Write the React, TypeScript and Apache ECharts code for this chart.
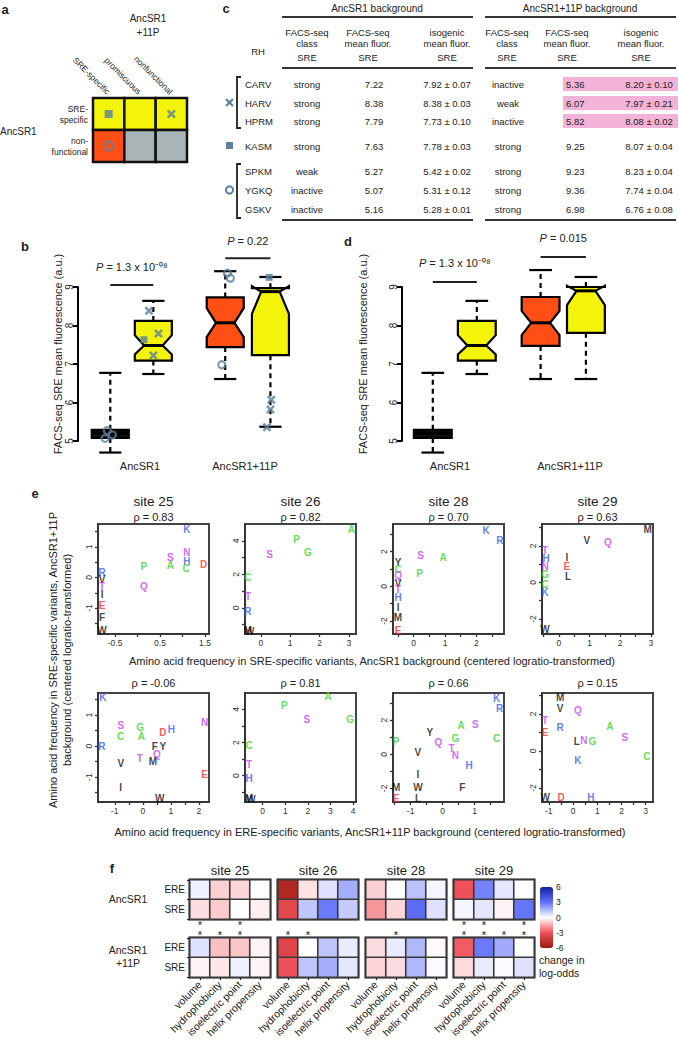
import React, { useEffect, useRef } from "react";
import * as echarts from "echarts";

const FONT = "'Liberation Sans', Arial, Helvetica, sans-serif";
const INK = "#222";
const MARK = "#5b7f9c";
const YELLOW = "#f4f40a";
const ORANGE = "#ff4f14";
const GRAY = "#a8b4b5";

// ---------- panel a ----------
const aColumns = ["SRE-specific", "promiscuous", "nonfunctional"];
const aRows = ["non-\nfunctional", "SRE-\nspecific"];
// [col, row, kind]  kind 0 = yellow, 1 = orange, 2 = gray
const aCells = [
  [0, 1, 0], [1, 1, 0], [2, 1, 0],
  [0, 0, 1], [1, 0, 2], [2, 0, 2],
];
const aMarkers: [number, number, string][] = [[0, 1, "square"], [2, 1, "cross"], [0, 0, "circle"]];

// ---------- panel c ----------
const cRH = ["CARV", "HARV", "HPRM", "KASM", "SPKM", "YGKQ", "GSKV"];
const cClass1 = ["strong", "strong", "strong", "strong", "weak", "inactive", "inactive"];
const cMean1 = [7.22, 8.38, 7.79, 7.63, 5.27, 5.07, 5.16];
const cIso1 = ["7.92 ± 0.07", "8.38 ± 0.03", "7.73 ± 0.10", "7.78 ± 0.03", "5.42 ± 0.02", "5.31 ± 0.12", "5.28 ± 0.01"];
const cClass2 = ["inactive", "weak", "inactive", "strong", "strong", "strong", "strong"];
const cMean2 = [5.36, 6.07, 5.82, 9.25, 9.23, 9.36, 6.98];
const cIso2 = ["8.20 ± 0.10", "7.97 ± 0.21", "8.08 ± 0.02", "8.07 ± 0.04", "8.23 ± 0.04", "7.74 ± 0.04", "6.76 ± 0.08"];
const cHighlight = [true, true, true, false, false, false, false];
const cHeaders = [["FACS-seq", "class", "SRE"], ["FACS-seq", "mean fluor.", "SRE"], ["isogenic", "mean fluor.", "SRE"]];

// ---------- panels b, d (box plots) ----------
const boxFill = [0, 1, 2, 1]; // 0 black, 1 yellow, 2 orange
const boxNotched = [0, 1, 1, 1];
const bPos = [1, 2, 3.67, 4.72];
const bLow = [4.7, 6.74, 6.61, 5.37];
const bQ1 = [5.08, 7.09, 7.44, 7.23];
const bNotchLo = [5.08, 7.25, 7.7, 8.3];
const bMed = [5.2, 7.48, 8.07, 8.88];
const bNotchHi = [5.29, 7.75, 8.45, 9.02];
const bQ3 = [5.29, 8.12, 8.73, 8.97];
const bHigh = [6.77, 8.64, 9.41, 9.26];

const dPos = [1, 2, 3.45, 4.48];
const dLow = [4.7, 6.74, 6.61, 6.61];
const dQ1 = [5.08, 7.09, 7.47, 7.81];
const dNotchLo = [5.08, 7.25, 7.75, 8.53];
const dMed = [5.2, 7.48, 8.07, 8.9];
const dNotchHi = [5.29, 7.75, 8.38, 9.03];
const dQ3 = [5.29, 8.12, 8.74, 9.0];
const dHigh = [6.77, 8.64, 9.44, 9.26];

// [box, value, jitter, symbol]
const bMarks: [number, number, number, string][] = [
  [0, 5.27, -0.07, "circle"], [0, 5.07, -0.12, "circle"], [0, 5.16, 0.05, "circle"],
  [1, 7.22, 0.0, "cross"], [1, 8.38, -0.1, "cross"], [1, 7.79, 0.12, "cross"], [1, 7.63, -0.22, "square"],
  [2, 9.23, 0.12, "circle"], [2, 9.36, 0.05, "circle"], [2, 6.98, -0.08, "circle"],
  [3, 5.36, -0.08, "cross"], [3, 6.07, 0.02, "cross"], [3, 5.82, 0.0, "cross"], [3, 9.25, -0.03, "square"],
];
// [x1, x2, yLine, yText]
const bTests = [[1, 2, 9.05, 9.52], [3.67, 4.72, 9.75, 10.19]];
const bTestLabels = ["1.3 x 10⁻⁰⁸", "0.22"];
const dTests = [[1, 2, 9.13, 9.62], [3.45, 4.48, 9.78, 10.27]];
const dTestLabels = ["1.3 x 10⁻⁰⁸", "0.015"];
const boxGroups = ["AncSR1", "AncSR1+11P"];

// ---------- panel e ----------
const eSites = ["site 25", "site 26", "site 28", "site 29"];
const eRhoTop = ["0.83", "0.82", "0.70", "0.63"];
const eRhoBottom = ["-0.06", "0.81", "0.66", "0.15"];

const e25Top: [string, number, number][] = [
  ["K", 1.1, 1.56], ["N", 1.1, 0.81], ["S", 0.73, 0.65], ["H", 1.1, 0.52], ["A", 0.73, 0.39], ["C", 1.08, 0.29],
  ["D", 1.47, 0.42], ["P", 0.14, 0.36], ["Q", 0.14, -0.29], ["R", -0.79, 0.15],
  ["V", -0.79, -0.05], ["T", -0.79, -0.3], ["I", -0.79, -0.55],
  ["E", -0.79, -0.93], ["F", -0.79, -1.3], ["W", -0.79, -1.75],
];
const e26Top: [string, number, number][] = [
  ["A", 3.08, 4.67], ["P", 1.22, 4.07], ["G", 1.6, 3.3], ["S", 0.3, 3.2], ["C", -0.44, 1.8], ["T", -0.44, 0.66],
  ["R", -0.44, -0.2], ["M", -0.44, -1.38], ["W", -0.38, -1.42],
];
const e28Top: [string, number, number][] = [
  ["K", 2.31, 3.24], ["R", 2.75, 2.66], ["S", 0.22, 1.79], ["A", 0.94, 1.68], ["P", 0.19, 0.75],
  ["Y", -0.5, 1.4], ["C", -0.5, 1.0], ["Q", -0.5, 0.6], ["V", -0.5, 0.15], ["T", -0.5, -0.2],
  ["H", -0.5, -0.64], ["I", -0.5, -1.2], ["M", -0.5, -1.82], ["E", -0.5, -2.55],
];
const e29Top: [string, number, number][] = [
  ["M", 2.9, 2.9], ["V", 0.91, 2.3], ["Q", 1.6, 2.18], ["T", -0.45, 1.75], ["H", -0.42, 1.3],
  ["N", -0.45, 0.85], ["G", -0.45, 0.45], ["I", 0.26, 1.37], ["E", 0.26, 0.87], ["L", 0.3, 0.33],
  ["C", -0.45, -0.1], ["K", -0.45, -0.55], ["W", -0.45, -2.6],
];
const e25Bottom: [string, number, number][] = [
  ["K", -1.43, 1.55], ["N", 2.2, 0.77], ["S", -0.79, 0.66], ["C", -0.79, 0.3], ["G", -0.1, 0.6], ["A", -0.05, 0.3],
  ["D", 0.71, 0.45], ["H", 1.02, 0.52], ["R", -1.46, 0.0], ["F", 0.43, 0.0], ["Y", 0.71, 0.0], ["T", -0.11, -0.4],
  ["Q", 0.5, -0.28], ["M", 0.36, -0.5], ["V", -0.79, -0.55], ["E", 2.2, -0.93], ["I", -0.79, -1.32],
  ["W", 0.6, -1.68],
];
const e26Bottom: [string, number, number][] = [
  ["A", 2.9, 4.8], ["P", 0.96, 4.25], ["G", 3.87, 3.4], ["S", 1.96, 3.4], ["C", -0.6, 1.8], ["T", -0.6, 0.7],
  ["H", -0.6, -0.2], ["M", -0.6, -1.4], ["W", -0.52, -1.45],
];
const e28Bottom: [string, number, number][] = [
  ["K", 1.69, 3.27], ["R", 1.78, 2.7], ["A", 0.58, 1.7], ["S", 1.02, 1.76], ["Y", -0.4, 1.3], ["P", -1.45, 0.76],
  ["Q", -0.13, 0.7], ["G", 0.4, 0.94], ["C", 1.69, 0.94], ["T", 0.28, 0.35], ["N", 0.4, -0.05], ["V", -0.77, 0.12],
  ["H", 0.83, -0.65], ["I", -0.77, -1.18], ["M", -1.45, -1.94], ["W", -0.77, -1.94],
  ["F", 0.62, -1.94], ["E", -1.45, -2.6], ["L", -0.77, -2.6],
];
const e29Bottom: [string, number, number][] = [
  ["M", -0.53, 2.86], ["V", -0.53, 2.27], ["Q", 0.2, 2.16], ["T", -1.15, 1.62], ["E", -1.15, 0.97], ["R", -0.53, 1.24],
  ["A", 1.52, 1.3], ["S", 2.14, 0.7], ["L", 0.16, 0.49], ["N", 0.45, 0.54], ["G", 0.8, 0.49], ["C", 3.05, -0.32],
  ["K", 0.2, -0.54], ["D", -0.49, -2.54], ["H", 0.74, -2.54], ["W", -1.15, -2.54],
];
// axis specs: [min, max, ticks, labels]
const eTopX = [
  [-0.88, 1.59, [-0.5, 0, 0.5, 1, 1.5], [-0.5, 0.5, 1.5]],
  [-0.54, 3.24, [0, 1, 2, 3], [0, 1, 2, 3]],
  [-0.66, 2.88, [-0.5, 0, 0.5, 1, 1.5, 2, 2.5], [0, 1, 2]],
  [-0.55, 3.07, [-0.5, 0, 0.5, 1, 1.5, 2, 2.5, 3], [0, 1, 2, 3]],
];
const eTopY = [
  [-1.85, 1.75, [-1.5, -1, -0.5, 0, 0.5, 1, 1.5], [-1, 0, 1]],
  [-1.56, 5.0, [-1, 0, 1, 2, 3, 4], [0, 2, 4]],
  [-2.75, 3.6, [-2, -1, 0, 1, 2, 3], [-2, 0, 2]],
  [-2.82, 3.2, [-2, -1, 0, 1, 2, 3], [-2, 0, 2]],
];
const eBotX = [
  [-1.6, 2.36, [-1, -0.5, 0, 0.5, 1, 1.5, 2], [-1, 0, 1, 2]],
  [-0.78, 4.13, [0, 1, 2, 3, 4], [0, 1, 2, 3, 4]],
  [-1.55, 1.92, [-1.5, -1, -0.5, 0, 0.5, 1, 1.5], [-1, 0, 1]],
  [-1.28, 3.3, [-1, -0.5, 0, 0.5, 1, 1.5, 2, 2.5, 3], [-1, 0, 1, 2, 3]],
];
const eBotY = [
  [-1.8, 1.71, [-1.5, -1, -0.5, 0, 0.5, 1, 1.5], [-1, 0, 1]],
  [-1.6, 5.0, [-1, 0, 1, 2, 3, 4], [0, 2, 4]],
  [-2.8, 3.6, [-2, -1, 0, 1, 2, 3], [-2, 0, 2]],
  [-2.76, 3.13, [-2, -1, 0, 1, 2, 3], [-2, 0, 2]],
];

// ---------- panel f ----------
const fSites = ["site 25", "site 26", "site 28", "site 29"];
const fProps = ["volume", "hydrophobicity", "isoelectric point", "helix propensity"];
const fAncERE = [[0.3, -0.8, -0.7, 0.05], [-5.2, -0.5, 0.6, 1.7], [-0.8, 0, 1.3, 0.2], [-3.0, 2.6, 0.5, 0.05]];
const fAncSRE = [[-0.6, -0.9, 0, -0.3], [-3.5, 1.2, 2.8, 1.1], [-1.8, -0.7, 3.2, 0.6], [0.2, 0.5, -0.2, 2.9]];
const f11pERE = [[0.6, -1.1, -1.0, -0.2], [-3.6, 0, 1.2, 0.4], [-0.6, 0.4, 1.5, -0.1], [-2.8, 2.8, 1.8, 0.05]];
const f11pSRE = [[-0.2, -0.4, 0.3, -0.2], [-3.0, 1.2, 1.7, 0.5], [-0.7, -0.6, 1.5, 0.1], [-0.6, 0.4, 0.1, 0.6]];
// [col, line] line 0 = lower asterisk, 1 = upper asterisk
const fStars = [
  [[0, 0], [0, 1], [1, 0], [2, 0], [2, 1]],
  [[0, 0], [1, 0]],
  [[1, 0]],
  [[0, 0], [0, 1], [1, 0], [1, 1], [2, 0], [3, 0], [3, 1]],
];
const fScaleTicks = [6, 3, 0, -3, -6];
const fScaleColors = ["#9a1a10", "#f05058", "#ffffff", "#6070f8", "#1020a0"];

const AA_COLOR: Record<string, string> = {
  A: "#3cd42a", C: "#3cd42a", G: "#3cd42a", P: "#3cd42a",
  S: "#c444f0", T: "#c444f0", N: "#c444f0", Q: "#c444f0",
  H: "#3a5cf5", K: "#3a5cf5", R: "#3a5cf5",
  D: "#f5302a", E: "#f5302a",
};
const CROSS = "path://M2,0 L5,3 L8,0 L10,2 L7,5 L10,8 L8,10 L5,7 L2,10 L0,8 L3,5 L0,2 Z";

function buildOption() {
  const grids: any[] = [];
  const xAxes: any[] = [];
  const yAxes: any[] = [];
  const series: any[] = [];
  const gfx: any[] = [];
  const heatIdx: number[] = [];

  const T = (text: string, x: number, y: number, o: any = {}) => ({
    type: "text", x, y, rotation: o.rot || 0, silent: true, z: 100,
    style: {
      text, fontSize: o.size || 10, fontFamily: FONT, fontWeight: o.bold ? "bold" : "normal",
      fontStyle: o.italic ? "italic" : "normal", fill: o.color || INK,
      align: o.align || "center", verticalAlign: o.va || "middle", lineHeight: o.lh, rich: o.rich,
    },
  });
  const L = (x1: number, y1: number, x2: number, y2: number, w = 1.6, c = "#333") => ({
    type: "line", silent: true, z: 100, shape: { x1, y1, x2, y2 }, style: { stroke: c, lineWidth: w },
  });
  const addGrid = (g: any) => { grids.push({ show: false, ...g }); return grids.length - 1; };

  // ===== panel a =====
  const gA = addGrid({ left: 93, top: 98, width: 94, height: 64 });
  xAxes.push({
    type: "category", gridIndex: gA, data: aColumns, position: "top",
    axisLine: { show: false }, axisTick: { show: false },
    axisLabel: { rotate: 45, fontSize: 8.5, color: INK, margin: 5, fontFamily: FONT },
  });
  yAxes.push({
    type: "category", gridIndex: gA, data: aRows, axisLine: { show: false }, axisTick: { show: false },
    axisLabel: { fontSize: 8.5, color: INK, margin: 5, lineHeight: 11, align: "right", fontFamily: FONT },
  });
  const aFill = [YELLOW, ORANGE, GRAY];
  series.push({
    type: "custom", xAxisIndex: gA, yAxisIndex: gA, data: aCells, silent: true,
    renderItem: (p: any, api: any) => {
      const c = api.coord([api.value(0), api.value(1)]);
      const s = api.size([1, 1]);
      return {
        type: "rect",
        shape: { x: c[0] - s[0] / 2, y: c[1] - s[1] / 2, width: s[0], height: s[1] },
        style: { fill: aFill[api.value(2)], stroke: "#111", lineWidth: 2.5 },
      };
    },
  });
  const symOf = (k: string) => (k === "square" ? "rect" : k === "cross" ? CROSS : "circle");
  const markStyle = (k: string) => ({
    color: k === "circle" ? "rgba(0,0,0,0)" : MARK, borderColor: MARK, borderWidth: k === "circle" ? 2.2 : 0,
  });
  series.push({
    type: "scatter", xAxisIndex: gA, yAxisIndex: gA, silent: true, z: 5,
    data: aMarkers.map((m) => ({
      value: [m[0], m[1]], symbol: symOf(m[2]), symbolSize: m[2] === "square" ? 8 : 9, itemStyle: markStyle(m[2]),
    })),
  });
  gfx.push(T("a", 5, 9, { size: 13, bold: true }));
  gfx.push(T("AncSR1", 148, 18, { size: 10 }));
  gfx.push(T("+11P", 148, 32, { size: 10 }));
  gfx.push(T("AncSR1", 0, 131, { size: 10, align: "left" }));

  // ===== panel c (table) =====
  gfx.push(T("c", 226, 8, { size: 13, bold: true }));
  gfx.push(T("AncSR1 background", 377, 8, { size: 10 }));
  gfx.push(T("AncSR1+11P background", 580, 8, { size: 10 }));
  const segs = [[282, 473], [485, 676]];
  [17, 68, 220].forEach((y) => segs.forEach((s) => gfx.push(L(s[0], y, s[1], y, 1.8, "#333"))));
  const hdrX = [307, 368, 447, 507, 567, 641];
  hdrX.forEach((x, i) => {
    const h = cHeaders[i % 3];
    h.forEach((t, j) => gfx.push(T(t, x, [32, 43, 57][j], { size: 9.5 })));
  });
  gfx.push(T("RH", 258, 51, { size: 9.5 }));
  const rowY = [84, 103, 121, 146, 171, 190, 209];
  cRH.forEach((rh, i) => {
    const y = rowY[i];
    if (cHighlight[i]) gfx.push({ type: "rect", silent: true, z: 90, shape: { x: 563, y: y - 7, width: 115, height: 14 }, style: { fill: "#f3b3d9" } });
    gfx.push(T(rh, 245, y, { size: 9.5, align: "left" }));
    gfx.push(T(cClass1[i], 307, y, { size: 9.5 }));
    gfx.push(T(cMean1[i].toFixed(2), 374, y, { size: 9.5 }));
    gfx.push(T(cIso1[i], 447, y, { size: 9.5 }));
    gfx.push(T(cClass2[i], 508, y, { size: 9.5 }));
    gfx.push(T(cMean2[i].toFixed(2), 566, y, { size: 9.5, align: "left" }));
    gfx.push(T(cIso2[i], 649, y, { size: 9.5 }));
  });
  gfx.push({ type: "polyline", silent: true, z: 100, shape: { points: [[241, 77], [237, 77], [237, 128], [241, 128]] }, style: { stroke: "#222", lineWidth: 1.8, fill: null } });
  gfx.push({ type: "polyline", silent: true, z: 100, shape: { points: [[241, 164], [237, 164], [237, 218], [241, 218]] }, style: { stroke: "#222", lineWidth: 1.8, fill: null } });
  gfx.push(L(226, 99, 233, 106, 2.2, MARK), L(233, 99, 226, 106, 2.2, MARK));
  gfx.push({ type: "rect", silent: true, z: 100, shape: { x: 226, y: 142, width: 7, height: 7 }, style: { fill: MARK } });
  gfx.push({ type: "circle", silent: true, z: 100, shape: { cx: 229.5, cy: 190, r: 3.6 }, style: { fill: "#fff", stroke: MARK, lineWidth: 2 } });

  // ===== panels b & d =====
  const FILLS = ["#111", YELLOW, ORANGE];
  const BW = 0.86;
  const renderBox = (p: any, api: any) => {
    const x = api.value(0);
    const lo = api.value(1), q1 = api.value(2), nlo = api.value(3), med = api.value(4);
    const nhi = api.value(5), q3 = api.value(6), hi = api.value(7), fi = api.value(8), notched = api.value(9);
    const cx = api.coord([x, med])[0];
    const Y = (v: number) => api.coord([x, v])[1];
    const hw = api.size([BW, 0])[0] / 2;
    const nw = notched ? hw * 0.5 : hw;
    const cw = hw * 0.6;
    const pts = notched
      ? [[cx - hw, Y(q1)], [cx + hw, Y(q1)], [cx + hw, Y(nlo)], [cx + nw, Y(med)], [cx + hw, Y(nhi)], [cx + hw, Y(q3)],
         [cx - hw, Y(q3)], [cx - hw, Y(nhi)], [cx - nw, Y(med)], [cx - hw, Y(nlo)]]
      : [[cx - hw, Y(q1)], [cx + hw, Y(q1)], [cx + hw, Y(q3)], [cx - hw, Y(q3)]];
    const ls = { stroke: "#000", lineWidth: 2.2 };
    return {
      type: "group",
      children: [
        { type: "line", shape: { x1: cx, y1: Y(q1), x2: cx, y2: Y(lo) }, style: { ...ls, lineDash: [5, 4] } },
        { type: "line", shape: { x1: cx, y1: Y(q3), x2: cx, y2: Y(hi) }, style: { ...ls, lineDash: [5, 4] } },
        { type: "line", shape: { x1: cx - cw, y1: Y(lo), x2: cx + cw, y2: Y(lo) }, style: ls },
        { type: "line", shape: { x1: cx - cw, y1: Y(hi), x2: cx + cw, y2: Y(hi) }, style: ls },
        { type: "polygon", shape: { points: pts }, style: { fill: FILLS[fi], stroke: "#000", lineWidth: 2.2 } },
        { type: "line", shape: { x1: cx - nw, y1: Y(med), x2: cx + nw, y2: Y(med) }, style: { stroke: "#000", lineWidth: 3 } },
      ],
    };
  };
  const renderTest = (labels: string[]) => (p: any, api: any) => {
    const a = api.coord([api.value(0), api.value(2)]);
    const b = api.coord([api.value(1), api.value(2)]);
    const t = api.coord([(api.value(0) + api.value(1)) / 2, api.value(3)]);
    return {
      type: "group",
      children: [
        { type: "line", shape: { x1: a[0], y1: a[1], x2: b[0], y2: b[1] }, style: { stroke: "#222", lineWidth: 2 } },
        {
          type: "text", x: t[0], y: t[1],
          style: {
            text: "{i|P} = " + labels[p.dataIndex], fontSize: 11, fontFamily: FONT, fill: INK,
            align: "center", verticalAlign: "middle",
            rich: { i: { fontStyle: "italic", fontSize: 11, fontFamily: FONT, fill: INK } },
          },
        },
      ],
    };
  };
  const boxPanel = (
    left: number, width: number, xmin: number, xmax: number, pos: number[], lo: number[], q1: number[], nlo: number[],
    med: number[], nhi: number[], q3: number[], hi: number[], tests: number[][], tlabels: string[],
  ) => {
    const g = addGrid({ left, top: 287, width, height: 154 });
    xAxes.push({ type: "value", gridIndex: g, min: xmin, max: xmax, show: false });
    yAxes.push({
      type: "value", gridIndex: g, min: 5, max: 9, interval: 1,
      axisLine: { show: true, lineStyle: { color: "#000", width: 2 } },
      axisTick: { show: true, length: 5, lineStyle: { color: "#000", width: 2 } },
      axisLabel: { show: true, fontSize: 10, rotate: 90, color: "#222", margin: 4, fontFamily: FONT },
      splitLine: { show: false },
    });
    series.push({
      type: "custom", xAxisIndex: g, yAxisIndex: g, silent: true, clip: false,
      data: pos.map((x, i) => [x, lo[i], q1[i], nlo[i], med[i], nhi[i], q3[i], hi[i], boxFill[i], boxNotched[i]]),
      renderItem: renderBox,
    });
    series.push({
      type: "custom", xAxisIndex: g, yAxisIndex: g, silent: true, clip: false,
      data: tests, renderItem: renderTest(tlabels),
    });
    return g;
  };
  const gB = boxPanel(78, 226, 0.25, 5.5, bPos, bLow, bQ1, bNotchLo, bMed, bNotchHi, bQ3, bHigh, bTests, bTestLabels);
  series.push({
    type: "scatter", xAxisIndex: gB, yAxisIndex: gB, silent: true, clip: false, z: 10,
    data: bMarks.map((m) => ({
      value: [bPos[m[0]] + m[2], m[1]], symbol: symOf(m[3]),
      symbolSize: m[3] === "square" ? 7 : m[3] === "circle" ? 7 : 9,
      itemStyle: markStyle(m[3]),
    })),
  });
  boxPanel(402, 220, 0.3, 5.3, dPos, dLow, dQ1, dNotchLo, dMed, dNotchHi, dQ3, dHigh, dTests, dTestLabels);
  gfx.push(T("b", 25, 246, { size: 13, bold: true }));
  gfx.push(T("d", 348, 241, { size: 13, bold: true }));
  const yl = "FACS-seq SRE mean fluorescence (a.u.)";
  gfx.push(T(yl, 58, 354, { size: 11, rot: Math.PI / 2 }));
  gfx.push(T(yl, 363, 354, { size: 11, rot: Math.PI / 2 }));
  gfx.push(T(boxGroups[0], 140, 466, { size: 11 }), T(boxGroups[1], 245, 466, { size: 11 }));
  gfx.push(T(boxGroups[0], 450, 466, { size: 11 }), T(boxGroups[1], 570, 466, { size: 11 }));

  // ===== panel e =====
  const eLefts = [98, 245, 393, 542];
  const eTop = [e25Top, e26Top, e28Top, e29Top];
  const eBot = [e25Bottom, e26Bottom, e28Bottom, e29Bottom];
  const valAxis = (g: number, spec: any, isY: boolean) => ({
    type: "value", gridIndex: g, min: spec[0], max: spec[1],
    axisLine: { show: true, onZero: false, lineStyle: { color: "#333", width: 1.5 } },
    axisTick: { show: true, length: 3, customValues: spec[2], lineStyle: { color: "#333", width: 1.3 } },
    axisLabel: { show: true, customValues: spec[3], fontSize: 8.5, color: "#333", rotate: isY ? 90 : 0, margin: isY ? 5 : 4, fontFamily: FONT },
    splitLine: { show: false },
  });
  const scatterPanel = (left: number, top: number, h: number, pts: [string, number, number][], xs: any, ys: any) => {
    const g = grids.length;
    grids.push({ show: true, left, top, width: 111, height: h, borderColor: "#444", borderWidth: 2, backgroundColor: "transparent" });
    xAxes.push(valAxis(g, xs, false));
    yAxes.push(valAxis(g, ys, true));
    series.push({
      type: "scatter", xAxisIndex: g, yAxisIndex: g, silent: true, clip: false, symbolSize: 1,
      itemStyle: { color: "rgba(0,0,0,0)" },
      label: { show: true, position: "inside", formatter: "{b}", fontSize: 10, fontWeight: "bold", fontFamily: FONT },
      data: pts.map(([l, x, y]) => ({ name: l, value: [x, y], label: { color: AA_COLOR[l] || "#111" } })),
    });
  };
  for (let i = 0; i < 4; i++) {
    scatterPanel(eLefts[i], 524, 110, eTop[i], eTopX[i], eTopY[i]);
    scatterPanel(eLefts[i], 693, 109, eBot[i], eBotX[i], eBotY[i]);
    const cx = eLefts[i] + 55.5;
    gfx.push(T(eSites[i], cx, 501, { size: 13.5 }));
    gfx.push(T("ρ = " + eRhoTop[i], cx, 517, { size: 11 }));
    gfx.push(T("ρ = " + eRhoBottom[i], cx, 683, { size: 11 }));
  }
  gfx.push(T("e", 35, 493, { size: 13, bold: true }));
  gfx.push(T("Amino acid frequency in SRE-specific variants, AncSR1 background (centered logratio-transformed)", 372, 661, { size: 11 }));
  gfx.push(T("Amino acid frequency in ERE-specific variants, AncSR1+11P background (centered logratio-transformed)", 370, 832, { size: 11 }));
  gfx.push(T("Amino acid frequency in SRE-specific variants, AncSR1+11P", 53, 660, { size: 11, rot: Math.PI / 2 }));
  gfx.push(T("background (centered logratio-transformed)", 67, 660, { size: 11, rot: Math.PI / 2 }));

  // ===== panel f =====
  const fLefts = [190, 278, 366, 454];
  const heat = (g: number, ere: number[], sre: number[]) => {
    const data: number[][] = [];
    for (let c = 0; c < 4; c++) { data.push([c, 1, ere[c]]); data.push([c, 0, sre[c]]); }
    heatIdx.push(series.length);
    series.push({
      type: "heatmap", xAxisIndex: g, yAxisIndex: g, data, silent: true,
      itemStyle: { borderColor: "#3a3a3a", borderWidth: 1.6 }, emphasis: { disabled: true },
    });
  };
  for (let i = 0; i < 4; i++) {
    const left = fLefts[i];
    const gu = grids.length;
    grids.push({ show: true, left, top: 880, width: 80, height: 39, borderColor: "#111", borderWidth: 3 });
    xAxes.push({ type: "category", gridIndex: gu, data: fProps, show: false });
    yAxes.push({
      type: "category", gridIndex: gu, data: ["SRE", "ERE"], show: i === 0,
      axisLine: { show: false }, axisTick: { show: true, length: 3, lineStyle: { color: "#222", width: 1.2 } },
      axisLabel: { fontSize: 10, color: INK, margin: 5, fontFamily: FONT },
    });
    heat(gu, fAncERE[i], fAncSRE[i]);
    const gs = addGrid({ left, top: 918, width: 80, height: 20 });
    xAxes.push({ type: "category", gridIndex: gs, data: fProps, show: false });
    yAxes.push({ type: "category", gridIndex: gs, data: ["lower", "upper"], show: false });
    series.push({
      type: "scatter", xAxisIndex: gs, yAxisIndex: gs, silent: true, symbolSize: 1, itemStyle: { color: "rgba(0,0,0,0)" },
      label: { show: true, position: "inside", formatter: "*", fontSize: 10, fontWeight: "bold", color: "#222", offset: [0, 2.5], fontFamily: FONT },
      data: fStars[i].map((s) => [s[0], s[1]]),
    });
    const gl = grids.length;
    grids.push({ show: true, left, top: 938, width: 80, height: 39, borderColor: "#111", borderWidth: 3 });
    xAxes.push({
      type: "category", gridIndex: gl, data: fProps,
      axisLine: { show: false }, axisTick: { show: true, alignWithLabel: true, length: 3, lineStyle: { color: "#222", width: 1.2 } },
      axisLabel: { rotate: 45, fontSize: 10.5, color: INK, margin: 6, fontFamily: FONT, interval: 0 },
    });
    yAxes.push({
      type: "category", gridIndex: gl, data: ["SRE", "ERE"], show: i === 0,
      axisLine: { show: false }, axisTick: { show: true, length: 3, lineStyle: { color: "#222", width: 1.2 } },
      axisLabel: { fontSize: 10, color: INK, margin: 5, fontFamily: FONT },
    });
    heat(gl, f11pERE[i], f11pSRE[i]);
    gfx.push(T(fSites[i], left + 40, 870, { size: 13 }));
  }
  gfx.push(T("f", 112, 868, { size: 13, bold: true }));
  gfx.push(T("AncSR1", 128, 899, { size: 10.5 }));
  gfx.push(T("AncSR1", 128, 950, { size: 10.5 }));
  gfx.push(T("+11P", 128, 963, { size: 10.5 }));
  const cbTop = 887, cbH = 61;
  fScaleTicks.forEach((v) => gfx.push(T(String(v), 556, cbTop + ((6 - v) / 12) * cbH, { size: 8.5, align: "left" })));
  gfx.push(T("change in", 539, 960, { size: 10.5, align: "left" }));
  gfx.push(T("log-odds", 539, 973, { size: 10.5, align: "left" }));

  return {
    animation: false,
    backgroundColor: "#fff",
    textStyle: { fontFamily: FONT },
    grid: grids,
    xAxis: xAxes,
    yAxis: yAxes,
    visualMap: {
      type: "continuous", min: -6, max: 6, seriesIndex: heatIdx, dimension: 2, calculable: false,
      show: true, left: 540, top: cbTop, itemWidth: 13, itemHeight: cbH, padding: 0,
      inRange: { color: fScaleColors },
    },
    series,
    graphic: { elements: gfx },
  };
}

export default function App() {
  const ref = useRef<HTMLDivElement>(null);
  useEffect(() => {
    const chart = echarts.init(ref.current as HTMLDivElement, null, { renderer: "svg" });
    chart.setOption(buildOption() as any);
    return () => chart.dispose();
  }, []);
  return (
    <div
      ref={ref}
      style={{ position: "absolute", left: 0, top: 0, width: 679, height: 1050, background: "#fff" }}
    />
  );
}
